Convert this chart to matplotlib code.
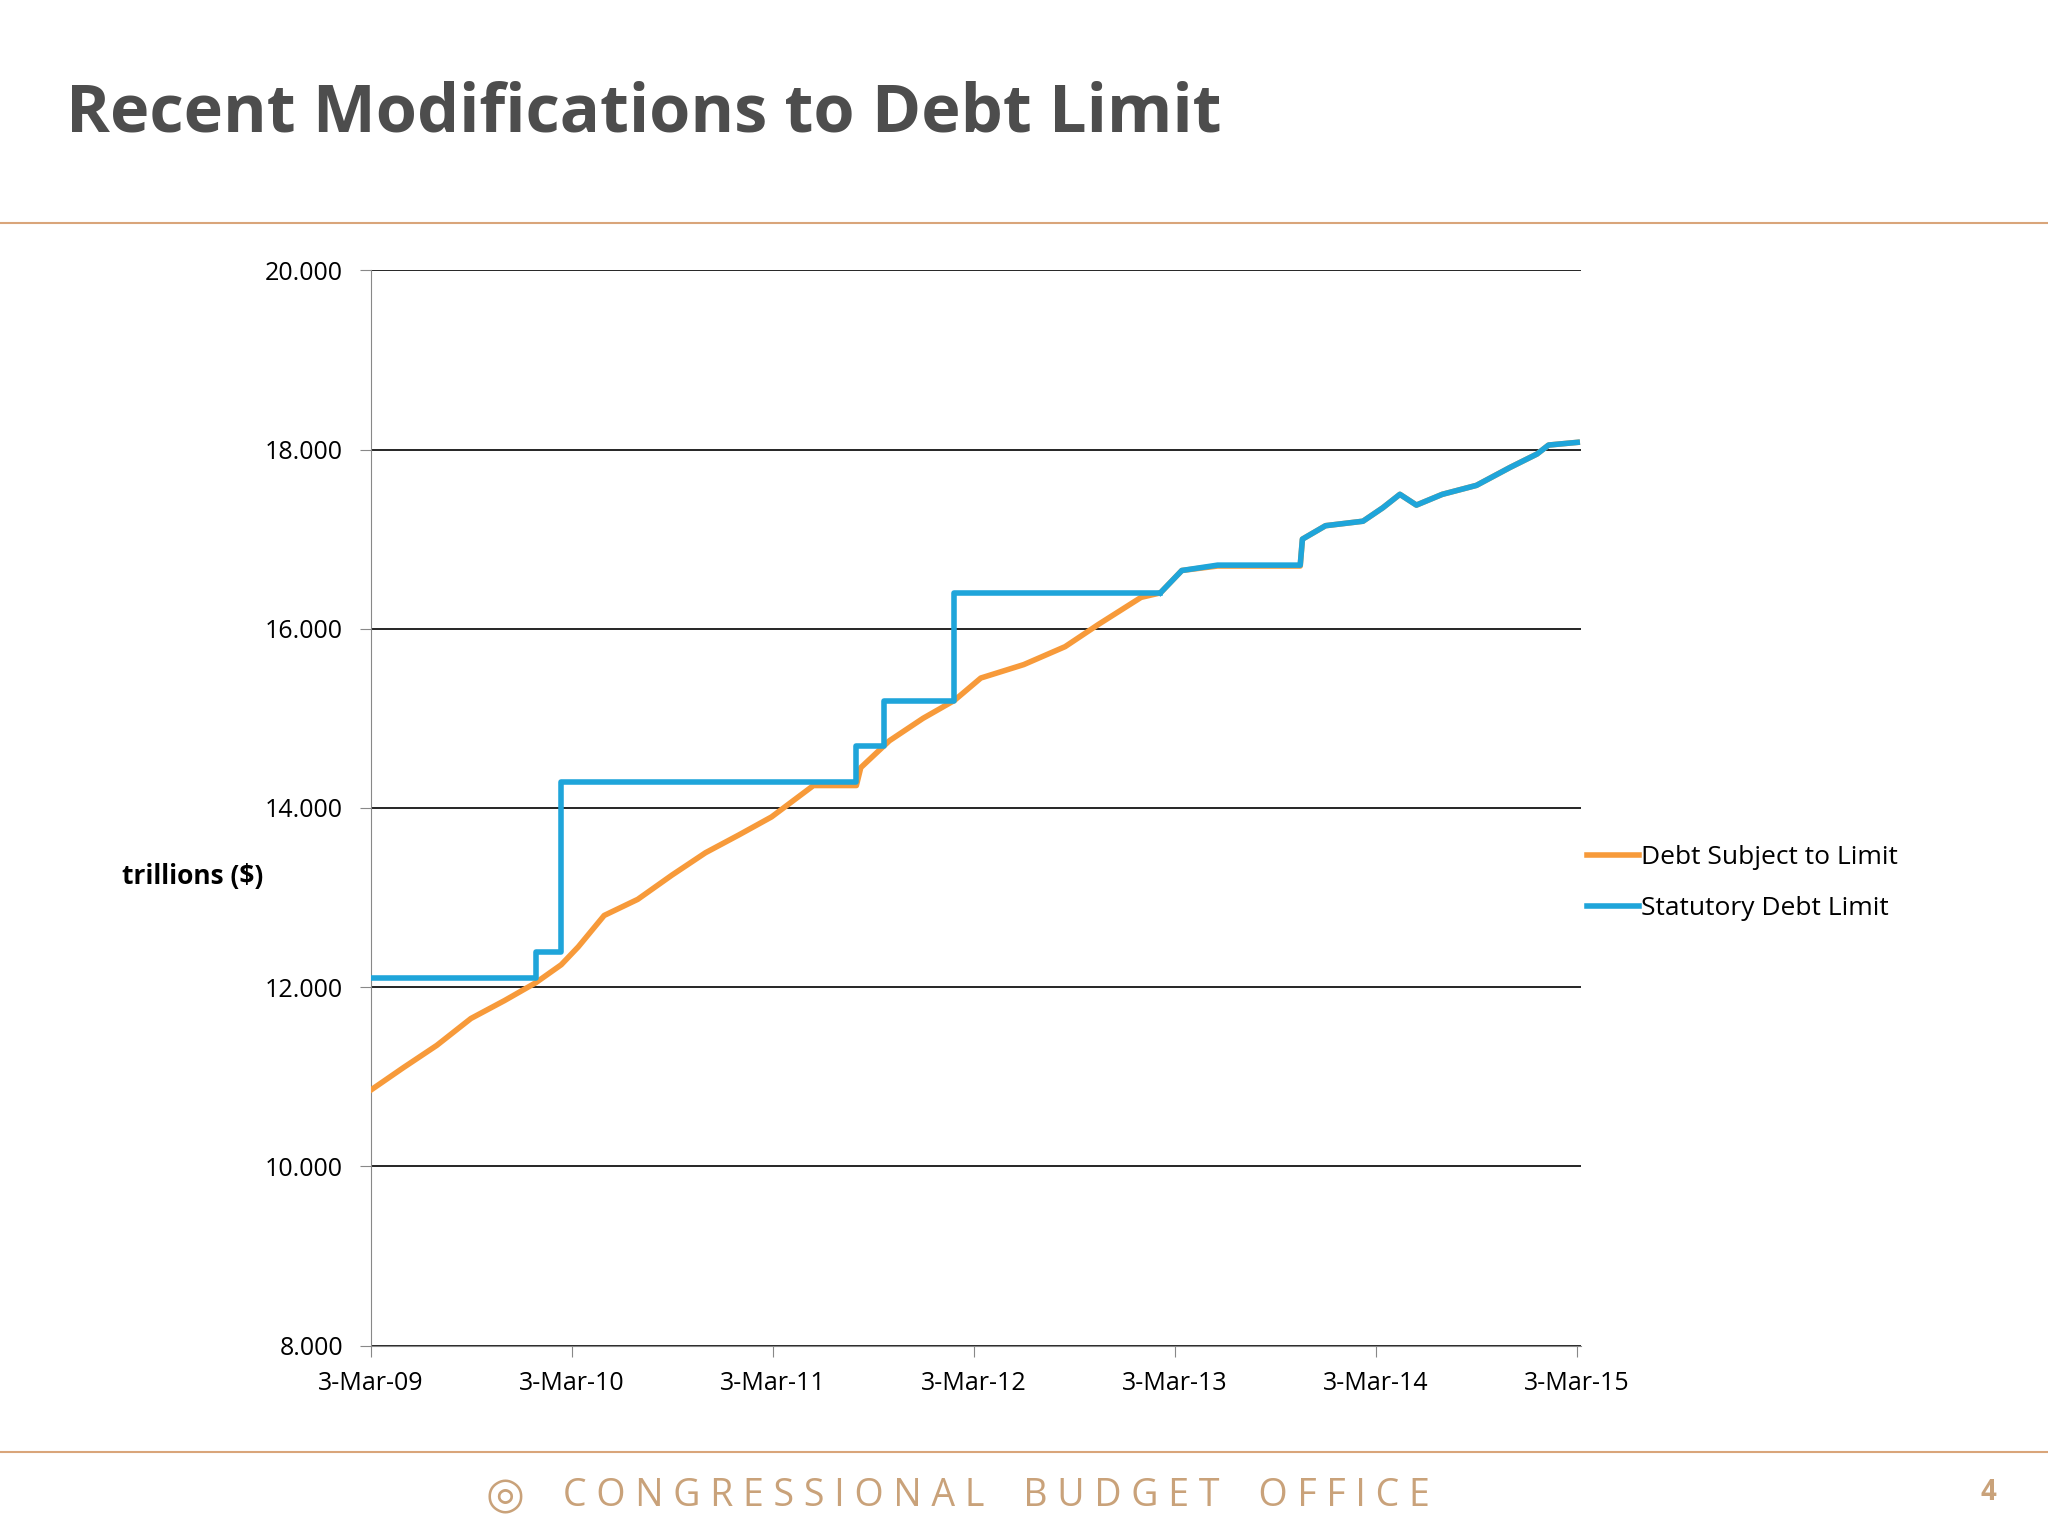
import pandas as pd
import matplotlib
matplotlib.use('Agg')
import matplotlib.pyplot as plt
from matplotlib.ticker import FormatStrFormatter

plt.rcParams['font.family'] = ['Open Sans', 'DejaVu Sans']

# Debt subject to limit (trillions)
debt_dates = ['2009-03-03', '2009-05-01', '2009-07-01', '2009-09-01', '2009-11-01', '2009-12-28',
              '2010-02-12', '2010-03-15', '2010-05-01', '2010-07-01', '2010-09-01', '2010-11-01',
              '2011-01-01', '2011-03-01', '2011-05-16', '2011-08-02', '2011-08-10', '2011-10-01',
              '2011-12-01', '2012-01-27', '2012-03-15', '2012-06-01', '2012-08-15', '2012-10-15',
              '2012-12-31', '2013-02-04', '2013-03-15', '2013-05-19', '2013-10-16', '2013-10-20',
              '2013-12-01', '2014-02-07', '2014-03-15', '2014-04-15', '2014-05-15', '2014-07-01',
              '2014-09-01', '2014-11-01', '2014-12-20', '2015-01-10', '2015-03-03']
debt_vals = [10.85, 11.10, 11.35, 11.65, 11.85, 12.05,
             12.25, 12.45, 12.80, 12.98, 13.25, 13.50,
             13.70, 13.90, 14.25, 14.25, 14.45, 14.75,
             15.00, 15.20, 15.45, 15.60, 15.80, 16.05,
             16.35, 16.40, 16.65, 16.70, 16.70, 17.00,
             17.15, 17.20, 17.35, 17.50, 17.38, 17.50,
             17.60, 17.80, 17.95, 18.05, 18.08]

# Statutory debt limit
limit_dates = ['2009-03-03', '2009-12-28', '2010-02-12', '2011-08-02', '2011-09-21',
               '2012-01-27', '2013-02-04']
limit_vals = [12.104, 12.394, 14.294, 14.694, 15.194, 16.394, 16.394]

debt = pd.Series(debt_vals, index=pd.to_datetime(debt_dates))
limit = pd.Series(limit_vals, index=pd.to_datetime(limit_dates))
# after suspension the limit follows the debt
lim_after = debt[debt.index >= pd.Timestamp('2013-02-04')].copy()
lim_after[(lim_after.index >= pd.Timestamp('2013-05-19')) & (lim_after.index <= pd.Timestamp('2013-10-16'))] += 0.01

fig = plt.figure(figsize=(20.48, 15.36), dpi=100)
ax = fig.add_axes([0.181, 0.124, 0.591, 0.700])

ax.plot(debt.index, debt.values, color='#F79A3A', lw=4, label='Debt Subject to Limit', zorder=3)
ax.step(limit.index, limit.values, where='post', color='#1FA5DA', lw=4, label='Statutory Debt Limit', zorder=4)
ax.plot(lim_after.index, lim_after.values, color='#1FA5DA', lw=4, zorder=4)

ax.set_ylim(8, 20)
ax.set_yticks([8, 10, 12, 14, 16, 18, 20])
ax.yaxis.set_major_formatter(FormatStrFormatter('%.3f'))
ticks = pd.to_datetime(['2009-03-03', '2010-03-03', '2011-03-03', '2012-03-03',
                        '2013-03-03', '2014-03-03', '2015-03-03'])
ax.set_xticks(ticks)
ax.set_xticklabels(['3-Mar-09', '3-Mar-10', '3-Mar-11', '3-Mar-12', '3-Mar-13', '3-Mar-14', '3-Mar-15'])
ax.set_xlim(pd.Timestamp('2009-03-03'), pd.Timestamp('2015-03-10'))
ax.grid(axis='y', color='black', lw=1.2)
ax.set_axisbelow(True)
for s in ['top', 'right']:
    ax.spines[s].set_visible(False)
ax.spines['left'].set_color('#888888')
ax.spines['bottom'].set_color('#888888')
ax.tick_params(axis='y', length=8, labelsize=18, color='#888888', pad=12)
ax.tick_params(axis='x', length=8, labelsize=18, color='#888888', direction='out', pad=10)
ax.set_facecolor('none')

ax.text(-0.147, 0.436, 'trillions ($)', transform=ax.transAxes, fontsize=19, fontweight='bold', ha='center', va='center')

ax.legend(loc='center left', bbox_to_anchor=(0.985, 0.43), frameon=False, fontsize=19,
          handlelength=2.0, handletextpad=0.05, labelspacing=1.0)

fig.text(0.032, 0.926, 'Recent Modifications to Debt Limit', fontsize=48, fontweight='bold', color='#4D4D4D', va='center')
fig.add_artist(plt.Line2D([0, 1], [0.855, 0.855], color='#D9A57A', lw=1.5))
fig.add_artist(plt.Line2D([0, 1], [0.055, 0.055], color='#D9A57A', lw=1.5))
fig.text(0.275, 0.026, 'C O N G R E S S I O N A L    B U D G E T    O F F I C E', fontsize=27,
         color='#C9A27A', va='center')
fig.text(0.237, 0.026, '◎', fontsize=32, color='#C9A27A', va='center', family=['DejaVu Sans'])
fig.text(0.967, 0.028, '4', fontsize=20, color='#C9A27A', fontweight='bold', va='center')

fig.savefig('out.png', dpi=100)
